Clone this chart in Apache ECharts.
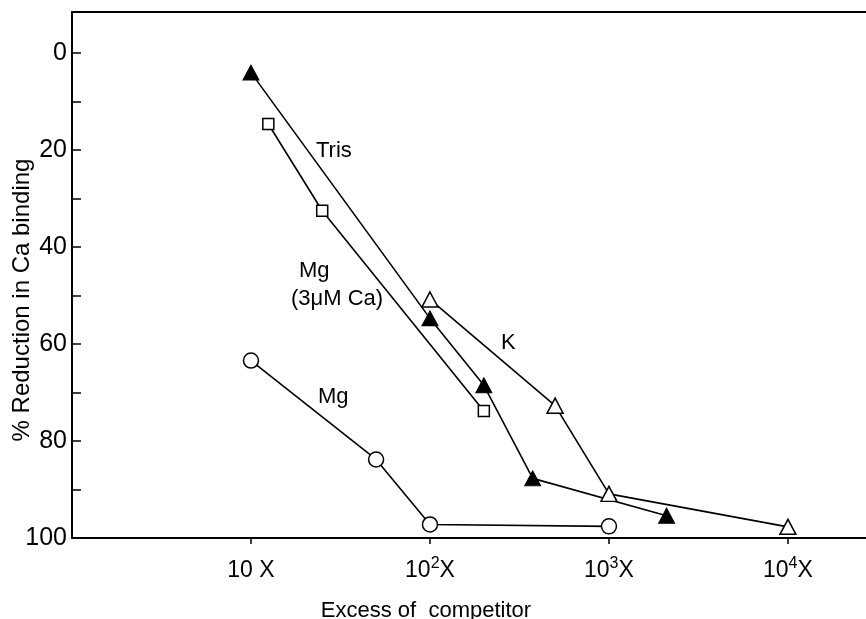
<!DOCTYPE html>
<html>
<head>
<meta charset="utf-8">
<title>Reduction in Ca binding by competitors</title>
<script src="https://cdn.jsdelivr.net/npm/echarts@6/dist/echarts.min.js"></script>
<style>
  html, body { margin: 0; padding: 0; background: #fff; }
  #chart { width: 866px; height: 619px; }
</style>
</head>
<body>
<div id="chart"></div>
<script>
// Fold excess of competitor (x) vs % reduction in Ca binding (y)
const trisX = [10, 100, 200, 375, 2100];
const trisY = [4, 54.7, 68.5, 87.7, 95.4];

const mgCaX = [12.5, 25, 200];
const mgCaY = [14.6, 32.5, 73.8];

const kX = [100, 500, 1000, 10000];
const kY = [50.8, 72.7, 90.9, 97.7];

const mgX = [10, 50, 100, 1000];
const mgY = [63.4, 83.8, 97.2, 97.6];

const xTickValues = [10, 100, 1000, 10000];
const xTickExponents = ['', '2', '3', '4'];
const yTickValues = [0, 10, 20, 30, 40, 50, 60, 70, 80, 90, 100];
const yLabelValues = [0, 20, 40, 60, 80, 100];

const FONT = "'Liberation Sans', Arial, sans-serif";

function pairs(xs, ys) {
  return xs.map((x, i) => [x, ys[i]]);
}

function xLabel(v) {
  const i = xTickValues.findIndex(t => Math.abs(t - v) / t < 1e-6);
  if (i < 0) return '';
  if (i === 0) return '{b|10 X}';
  return '{b|10}{sup|' + xTickExponents[i] + '}{b|X}';
}

const lineStyle = { color: '#000', width: 1.6 };

const chart = echarts.init(document.getElementById('chart'), null, { renderer: 'canvas' });

chart.setOption({
  backgroundColor: '#fff',
  animation: false,
  grid: { left: 72, top: 12, right: 0, bottom: 81, containLabel: false },
  xAxis: [
    {
      type: 'log',
      logBase: 10,
      min: 1,
      max: 27300,
      axisLine: { show: true, onZero: false, lineStyle: { color: '#000', width: 2 } },
      axisTick: { show: true, inside: false, length: 6, customValues: xTickValues,
                  lineStyle: { color: '#000', width: 1.5 } },
      minorTick: { show: false },
      splitLine: { show: false },
      axisLabel: {
        customValues: xTickValues,
        margin: 18,
        formatter: xLabel,
        rich: {
          b: { fontFamily: FONT, fontSize: 23, color: '#000', lineHeight: 30 },
          sup: { fontFamily: FONT, fontSize: 16, color: '#000', lineHeight: 12, verticalAlign: 'top' }
        }
      }
    },
    {
      type: 'value',
      position: 'top',
      min: 0,
      max: 1,
      axisLine: { show: true, onZero: false, lineStyle: { color: '#000', width: 2 } },
      axisTick: { show: false },
      axisLabel: { show: false },
      splitLine: { show: false }
    }
  ],
  yAxis: {
    type: 'value',
    inverse: true,
    min: -8.5,
    max: 100,
    axisLine: { show: true, onZero: false, lineStyle: { color: '#000', width: 2 } },
    axisTick: { show: true, inside: true, length: 9, customValues: yTickValues,
                lineStyle: { color: '#000', width: 1.5 } },
    splitLine: { show: false },
    axisLabel: {
      customValues: yLabelValues,
      margin: 5,
      fontFamily: FONT,
      fontSize: 25,
      color: '#000'
    }
  },
  series: [
    {
      name: 'Tris',
      type: 'line',
      data: pairs(trisX, trisY),
      symbol: 'triangle',
      symbolSize: [16, 15],
      showSymbol: true,
      lineStyle: lineStyle,
      itemStyle: { color: '#000', borderColor: '#000', borderWidth: 1 },
      z: 3
    },
    {
      name: 'Mg (3μM Ca)',
      type: 'line',
      data: pairs(mgCaX, mgCaY),
      symbol: 'rect',
      symbolSize: 11,
      lineStyle: lineStyle,
      itemStyle: { color: '#fff', borderColor: '#000', borderWidth: 1.5 },
      z: 2
    },
    {
      name: 'K',
      type: 'line',
      data: pairs(kX, kY),
      symbol: 'triangle',
      symbolSize: [16, 15],
      lineStyle: lineStyle,
      itemStyle: { color: '#fff', borderColor: '#000', borderWidth: 1.5 },
      z: 4
    },
    {
      name: 'Mg',
      type: 'line',
      data: pairs(mgX, mgY),
      symbol: 'circle',
      symbolSize: 15,
      lineStyle: lineStyle,
      itemStyle: { color: '#fff', borderColor: '#000', borderWidth: 1.5 },
      z: 2
    }
  ],
  graphic: [
    {
      type: 'text', x: 22, y: 300, rotation: Math.PI / 2,
      style: { text: '% Reduction in Ca binding', font: '24px ' + FONT, fill: '#000',
               align: 'center', verticalAlign: 'middle' }
    },
    {
      type: 'text', x: 426, y: 611,
      style: { text: 'Excess of  competitor', font: '22px ' + FONT, fill: '#000',
               align: 'center', verticalAlign: 'middle' }
    },
    {
      type: 'text', x: 316, y: 151,
      style: { text: 'Tris', font: '22px ' + FONT, fill: '#000', align: 'left', verticalAlign: 'middle' }
    },
    {
      type: 'text', x: 299, y: 271,
      style: { text: 'Mg', font: '22px ' + FONT, fill: '#000', align: 'left', verticalAlign: 'middle' }
    },
    {
      type: 'text', x: 291, y: 299,
      style: { text: '(3μM Ca)', font: '22px ' + FONT, fill: '#000', align: 'left', verticalAlign: 'middle' }
    },
    {
      type: 'text', x: 501, y: 343,
      style: { text: 'K', font: '22px ' + FONT, fill: '#000', align: 'left', verticalAlign: 'middle' }
    },
    {
      type: 'text', x: 318, y: 397,
      style: { text: 'Mg', font: '22px ' + FONT, fill: '#000', align: 'left', verticalAlign: 'middle' }
    }
  ]
});
</script>
</body>
</html>
